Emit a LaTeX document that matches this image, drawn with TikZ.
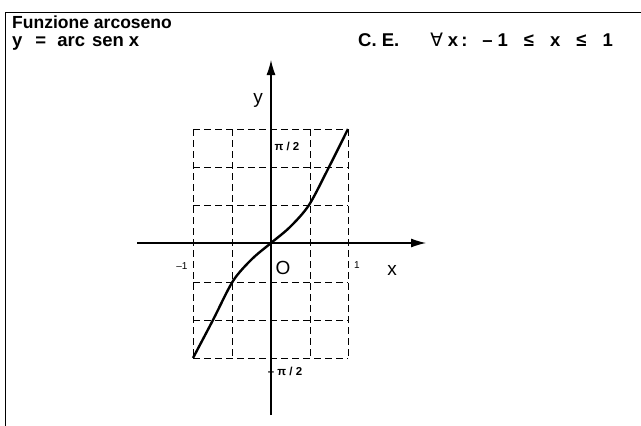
\documentclass[tikz,border=0pt]{standalone}
\usepackage{fontspec}
\setmainfont{Liberation Sans}
\newfontfamily\symbfont{DejaVu Sans}
\usetikzlibrary{arrows.meta}

\begin{document}
\begin{tikzpicture}[
    x=1pt, y=-1pt,
    title/.style={font=\fontsize{17.5}{19}\selectfont\bfseries, anchor=base west, inner sep=0pt},
    formula/.style={font=\fontsize{18.5}{20}\selectfont\bfseries, anchor=base west, inner sep=0pt},
    axis/.style={line width=1.1pt, -{Latex[length=15pt, width=9pt]}},
    gridline/.style={line width=0.9pt, dash pattern=on 7pt off 4pt},
    curve/.style={line width=2.4pt, line join=round},
    biglabel/.style={font=\fontsize{19}{21}\selectfont, inner sep=0pt},
    small/.style={font=\fontsize{10}{11}\selectfont, inner sep=0pt},
    pilabel/.style={font=\fontsize{11.5}{12}\selectfont\bfseries, inner sep=0pt}
]
\useasboundingbox (0,0) rectangle (641,426);

% Frame
\draw[line width=1pt] (5,426) -- (5,12) -- (641,12);

% Title
\node[title] (name) at (12,28) {Funzione\hspace{5pt}arcoseno};
\node[formula] (eq) at (12,46) {y\hspace{13pt}=\hspace{11pt}arc\hspace{7pt}sen\hspace{5pt}x};
\node[formula] (ce) at (358,46) {C. E.\hspace{31pt}{\symbfont\mdseries ∀}\hspace{5pt}x\hspace{3pt}:\hspace{15pt}–\hspace{5pt}1\hspace{16pt}≤\hspace{16pt}x\hspace{16pt}≤\hspace{16pt}1};

% Grid
\foreach \gx in {193, 232, 310, 348}
    \draw[gridline] (\gx,129) -- (\gx,358);
\foreach \gy in {129, 167, 205, 282, 320, 358}
    \draw[gridline] (193,\gy) -- (348,\gy);

% Axes
\coordinate (xl) at (137,243);
\coordinate (xr) at (426,243);
\coordinate (yb) at (271,415);
\coordinate (yt) at (271,60);
\draw[axis] (xl) -- (xr);
\draw[axis] (yb) -- (yt);

% Curve
\draw[curve] plot[smooth, tension=0.5] coordinates {(193,358) (213,320) (233,281) (252,259) (271,243) (290,227) (309,205) (329,167) (348,129)};

% Labels
\node[biglabel] (ylab) at (258,100) {y};
\node[biglabel] (xlab) at (392,270) {x};
\node[biglabel] (olab) at (283,268) {O};
\node[small] (m1) at (182,266) {–1};
\node[small] (p1) at (357,265) {1};
\node[pilabel] (pihalf) at (287,146) {π / 2};
\node[pilabel] (mpihalf) at (285,371) {– π / 2};

\end{tikzpicture}
\end{document}
